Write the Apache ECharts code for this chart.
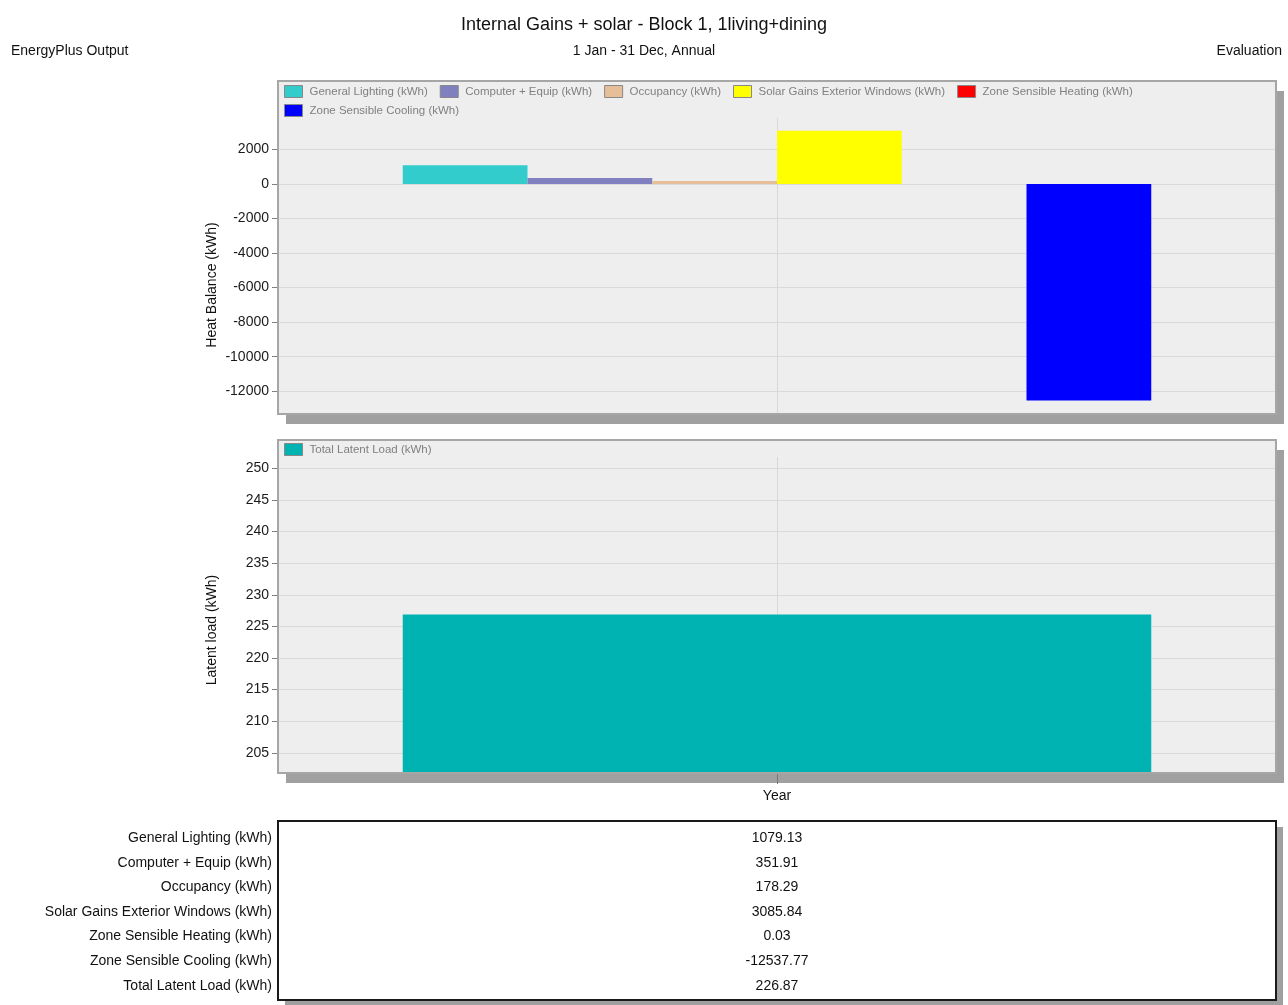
<!DOCTYPE html>
<html>
<head>
<meta charset="utf-8">
<script src="https://cdn.jsdelivr.net/npm/echarts@6/dist/echarts.min.js"></script>
<style>
  html, body { margin: 0; padding: 0; background: #fff; }
  #chart { width: 1288px; height: 1005px; }
</style>
</head>
<body>
<div id="chart"></div>
<script>
  // data
  const categories = ['Year']
  const heatNames = [
    'General Lighting (kWh)',
    'Computer + Equip (kWh)',
    'Occupancy (kWh)',
    'Solar Gains Exterior Windows (kWh)',
    'Zone Sensible Heating (kWh)',
    'Zone Sensible Cooling (kWh)'
  ]
  const heatValues = [1079.13, 351.91, 178.29, 3085.84, 0.03, -12537.77]
  const heatColors = ['#33cccc', '#8080c0', '#e6bf99', '#ffff00', '#ff0000', '#0000ff']
  const heatTicks = [-12000, -10000, -8000, -6000, -4000, -2000, 0, 2000]
  const latentName = 'Total Latent Load (kWh)'
  const latentValues = [226.87]
  const latentColor = '#00b3b3'
  const latentTicks = [205, 210, 215, 220, 225, 230, 235, 240, 245, 250]
  const tableLabels = heatNames.concat([latentName])
  const tableValues = heatValues.concat(latentValues)

  const font = "'Liberation Sans', Arial, sans-serif"

  let chart = echarts.init(document.getElementById('chart'))

  let heatSeries = heatNames.map((n, i) => {
    return {
      name: n,
      type: 'bar',
      xAxisIndex: 0,
      yAxisIndex: 0,
      barGap: 0,
      barCategoryGap: '25%',
      itemStyle: { color: heatColors[i] },
      data: [heatValues[i]]
    }
  })

  let legendCommon = {
    icon: 'rect',
    itemWidth: 18,
    itemHeight: 12,
    itemGap: 12,
    itemStyle: { borderColor: '#888', borderWidth: 1 },
    textStyle: { color: '#808080', fontSize: 11.5, fontFamily: font, padding: [0, 0, 0, 2] }
  }

  let panelBg = (y, h) => ({
    type: 'rect', z: -10, silent: true,
    shape: { x: 278, y: y, width: 998, height: h },
    style: { fill: '#edeeed', shadowBlur: 0, shadowOffsetX: 8, shadowOffsetY: 10, shadowColor: '#a0a0a0' }
  })
  let panelBorder = (y, h, color) => ({
    type: 'rect', z: 100, silent: true,
    shape: { x: 278, y: y, width: 998, height: h },
    style: { fill: 'none', stroke: color, lineWidth: 2 }
  })

  let plainNum = (v) => String(v)

  let options = {
    animation: false,
    textStyle: { fontFamily: font },
    title: [
      { text: 'Internal Gains + solar - Block 1, 1living+dining', left: 'center', top: 11,
        textStyle: { fontSize: 18, fontWeight: 'normal', color: '#111', fontFamily: font } },
      { text: '1 Jan - 31 Dec, Annual', left: 'center', top: 39,
        textStyle: { fontSize: 14, fontWeight: 'normal', color: '#111', fontFamily: font } },
      { text: 'EnergyPlus Output', left: 6, top: 39,
        textStyle: { fontSize: 14, fontWeight: 'normal', color: '#111', fontFamily: font } },
      { text: 'Evaluation', right: 1, top: 39,
        textStyle: { fontSize: 14, fontWeight: 'normal', color: '#111', fontFamily: font } }
    ],
    legend: [
      Object.assign({ left: 279, top: 80, data: heatNames.slice(0, 5) }, legendCommon),
      Object.assign({ left: 279, top: 99, data: heatNames.slice(5) }, legendCommon),
      Object.assign({ left: 279, top: 438, data: [latentName] }, legendCommon)
    ],
    graphic: [
      panelBg(81, 333),
      panelBorder(81, 333, '#a6a6a6'),
      panelBg(440, 333),
      panelBorder(440, 333, '#a6a6a6'),
      {
        type: 'rect', z: -10, silent: true,
        shape: { x: 278, y: 821, width: 998, height: 179 },
        style: { fill: '#fff', shadowBlur: 0, shadowOffsetX: 7, shadowOffsetY: 6, shadowColor: '#a0a0a0' }
      },
      panelBorder(821, 179, '#1a1a1a'),
      {
        type: 'text', x: 212, y: 285, rotation: Math.PI / 2, silent: true,
        style: { text: 'Heat Balance (kWh)', fontSize: 14, fontFamily: font, fill: '#111', align: 'center', verticalAlign: 'middle' }
      },
      {
        type: 'text', x: 212, y: 630, rotation: Math.PI / 2, silent: true,
        style: { text: 'Latent load (kWh)', fontSize: 14, fontFamily: font, fill: '#111', align: 'center', verticalAlign: 'middle' }
      }
    ],
    grid: [
      { left: 278, top: 118, width: 998, height: 296 },
      { left: 278, top: 457, width: 998, height: 316 },
      { left: 278, top: 826, width: 998, height: 172 }
    ],
    xAxis: [
      { type: 'category', gridIndex: 0, data: categories, show: false },
      { type: 'category', gridIndex: 1, data: categories,
        axisLine: { show: false },
        axisTick: { show: true, alignWithLabel: true, length: 11, lineStyle: { color: '#777' } },
        axisLabel: { margin: 16, fontSize: 14, color: '#111' }
      },
      { type: 'value', gridIndex: 2, min: 0, max: 1, show: false },
      // centre gridlines at the "Year" tick
      { type: 'value', gridIndex: 0, position: 'top', min: 0, max: 2, interval: 1,
        axisLine: { show: false }, axisTick: { show: false }, axisLabel: { show: false },
        splitLine: { show: true, lineStyle: { color: '#d8d8d8' } } },
      { type: 'value', gridIndex: 1, position: 'top', min: 0, max: 2, interval: 1,
        axisLine: { show: false }, axisTick: { show: false }, axisLabel: { show: false },
        splitLine: { show: true, lineStyle: { color: '#d8d8d8' } } }
    ],
    yAxis: [
      { type: 'value', gridIndex: 0, position: 'left', min: -13320, max: 3820, splitNumber: 8,
        axisLine: { show: false },
        axisTick: { show: true, length: 6, lineStyle: { color: '#808080' }, customValues: heatTicks },
        axisLabel: { margin: 9, fontSize: 14, color: '#1a1a1a', customValues: heatTicks, formatter: plainNum },
        splitLine: { show: true, lineStyle: { color: '#dadada' } }
      },
      { type: 'value', gridIndex: 1, position: 'left', min: 201.8, max: 251.8, splitNumber: 10,
        axisLine: { show: false },
        axisTick: { show: true, length: 6, lineStyle: { color: '#808080' }, customValues: latentTicks },
        axisLabel: { margin: 9, fontSize: 14, color: '#1a1a1a', customValues: latentTicks, formatter: plainNum },
        splitLine: { show: true, lineStyle: { color: '#dadada' } }
      },
      { type: 'category', gridIndex: 2, data: tableLabels, inverse: true,
        axisLine: { show: false }, axisTick: { show: false },
        axisLabel: { margin: 6, fontSize: 14, color: '#111' }
      }
    ],
    series: heatSeries.concat([
      {
        name: latentName,
        type: 'bar',
        xAxisIndex: 1,
        yAxisIndex: 1,
        barCategoryGap: '25%',
        itemStyle: { color: latentColor },
        data: latentValues
      },
      {
        type: 'scatter',
        xAxisIndex: 2,
        yAxisIndex: 2,
        symbolSize: 1,
        itemStyle: { color: 'rgba(0,0,0,0)' },
        label: {
          show: true, position: 'inside', fontSize: 14, color: '#111', opacity: 1,
          formatter: (p) => tableValues[p.dataIndex].toFixed(2)
        },
        data: tableValues.map((v, i) => [0.5, i])
      }
    ])
  }
  chart.setOption(options)
  window.addEventListener('resize', () => {
    chart.resize()
  })
</script>
</body>
</html>
